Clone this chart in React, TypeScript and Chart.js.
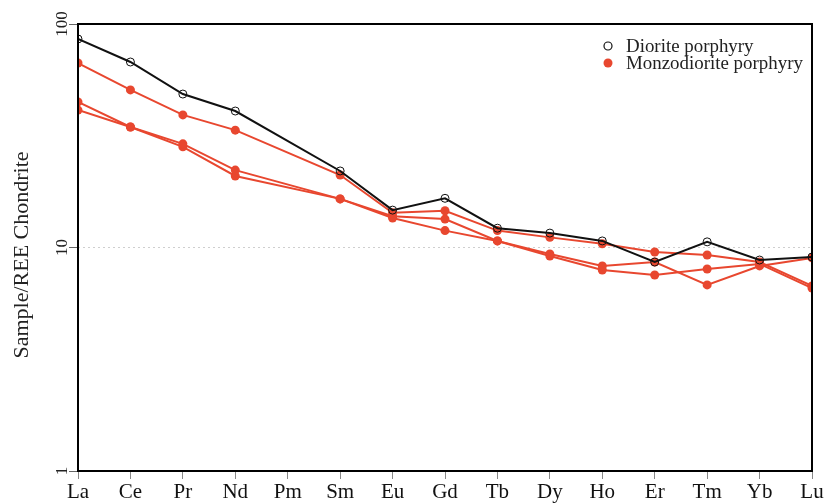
import React, { useEffect, useRef } from 'react';
import { Chart, registerables } from 'chart.js';

Chart.register(...registerables);

const elements = ['La', 'Ce', 'Pr', 'Nd', 'Pm', 'Sm', 'Eu', 'Gd', 'Tb', 'Dy', 'Ho', 'Er', 'Tm', 'Yb', 'Lu'];
const yTicks = [1, 10, 100];
const yTitle = 'Sample/REE Chondrite';
const legendLabels = ['Diorite porphyry', 'Monzodiorite porphyry'];

const diorite = [85.7, 67.6, 48.6, 40.8, null, 22.0, 14.7, 16.6, 12.2, 11.6, 10.7, 8.61, 10.6, 8.79, 9.07];
const monzo1 = [66.9, 50.7, 39.2, 33.5, null, 21.1, 14.3, 14.6, 11.9, 11.1, 10.4, 9.55, 9.26, 8.61, 6.73];
const monzo2 = [44.8, 34.6, 29.1, 22.2, null, 16.5, 13.8, 13.4, 10.7, 9.35, 8.27, 8.61, 6.8, 8.27, 8.98];
const monzo3 = [41.2, 34.6, 28.2, 20.9, null, 16.5, 13.55, 11.9, 10.7, 9.16, 7.93, 7.53, 8.01, 8.44, 6.59];

const RED = '#E8472F';
const BLACK = '#111111';
const FONT = '"Liberation Serif", "Times New Roman", serif';

const decor = {
  id: 'decor',
  afterDraw(chart: any) {
    const { ctx, chartArea: a, scales } = chart;
    ctx.save();
    // frame
    ctx.strokeStyle = '#000';
    ctx.lineWidth = 2;
    ctx.strokeRect(a.left, a.top, a.right - a.left, a.bottom - a.top);

    // y tick labels, rotated
    ctx.fillStyle = '#222';
    ctx.font = `17px ${FONT}`;
    ctx.textAlign = 'center';
    ctx.textBaseline = 'middle';
    for (const v of yTicks) {
      const y = scales.y.getPixelForValue(v);
      ctx.save();
      ctx.translate(63, y);
      ctx.rotate(-Math.PI / 2);
      ctx.fillText(String(v), 0, 0);
      ctx.restore();
    }

    // y title
    ctx.save();
    ctx.font = `22px ${FONT}`;
    ctx.fillStyle = '#222';
    ctx.translate(22, 255);
    ctx.rotate(-Math.PI / 2);
    ctx.fillText(yTitle, 0, 0);
    ctx.restore();

    // legend
    const lx = 608;
    const rows = [46, 63];
    ctx.lineWidth = 1.2;
    ctx.strokeStyle = BLACK;
    ctx.beginPath();
    ctx.arc(lx, rows[0], 4, 0, Math.PI * 2);
    ctx.stroke();
    ctx.fillStyle = RED;
    ctx.beginPath();
    ctx.arc(lx, rows[1], 4.5, 0, Math.PI * 2);
    ctx.fill();
    ctx.fillStyle = '#222';
    ctx.font = `18px ${FONT}`;
    ctx.textAlign = 'left';
    for (let i = 0; i < legendLabels.length; i++) {
      ctx.save();
      ctx.translate(626, rows[i] + 1);
      ctx.scale(1.05, 1);
      ctx.fillText(legendLabels[i], 0, 0);
      ctx.restore();
    }
    ctx.restore();
  },
};

export default function App() {
  const ref = useRef<HTMLCanvasElement | null>(null);

  useEffect(() => {
    if (!ref.current) return;
    const redSet = (data: (number | null)[]) => ({
      data,
      borderColor: RED,
      backgroundColor: RED,
      borderWidth: 2,
      pointRadius: 4.5,
      pointBackgroundColor: RED,
      pointBorderColor: RED,
      pointBorderWidth: 0,
      spanGaps: true,
      clip: 0,
    });
    const chart = new Chart(ref.current, {
      type: 'line',
      data: {
        labels: elements,
        datasets: [
          {
            data: diorite,
            borderColor: BLACK,
            backgroundColor: 'rgba(0,0,0,0)',
            borderWidth: 2,
            pointRadius: 4,
            pointBackgroundColor: 'rgba(0,0,0,0)',
            pointBorderColor: BLACK,
            pointBorderWidth: 1,
            spanGaps: true,
            clip: 0,
          },
          redSet(monzo1),
          redSet(monzo2),
          redSet(monzo3),
        ],
      },
      options: {
        responsive: false,
        animation: false,
        layout: { padding: { left: 0, right: 16, top: 24, bottom: 0 } },
        plugins: { legend: { display: false }, tooltip: { enabled: false } },
        elements: { line: { tension: 0 } },
        scales: {
          x: {
            type: 'category',
            offset: false,
            border: { display: false },
            grid: { drawOnChartArea: false, tickLength: 8, tickColor: '#888', color: '#888' },
            ticks: { color: '#111', font: { family: FONT, size: 21 }, padding: 1, maxRotation: 0, autoSkip: false },
            afterFit: (s: any) => { s.height = 32; },
          },
          y: {
            type: 'logarithmic',
            min: 1,
            max: 100,
            border: { display: false, dash: [2, 3] },
            grid: {
              color: (c: any) => (c.tick && c.tick.value === 10 ? '#cfcfcf' : 'rgba(0,0,0,0)'),
              tickColor: '#666',
              tickLength: 9,
              lineWidth: 1,
            },
            ticks: { display: false },
            afterBuildTicks: (s: any) => { s.ticks = yTicks.map((v) => ({ value: v })); },
            afterFit: (s: any) => { s.width = 78; },
          },
        },
      },
      plugins: [decor],
    });
    return () => chart.destroy();
  }, []);

  return (
    <div style={{ position: 'fixed', left: 0, top: 0, width: 828, height: 503, background: '#fff' }}>
      <canvas ref={ref} width={828} height={503} style={{ display: 'block' }} />
    </div>
  );
}
